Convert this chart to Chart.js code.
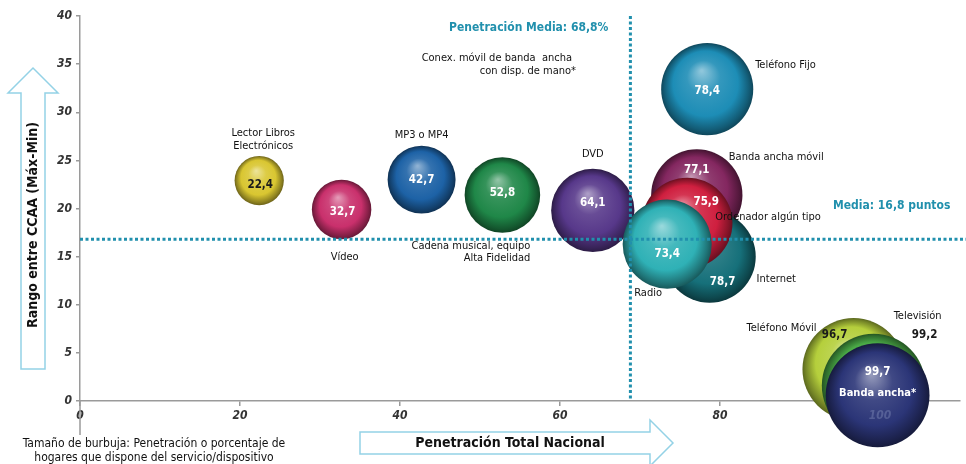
<!DOCTYPE html>
<html lang="es">
<head>
<meta charset="utf-8">
<script src="https://cdn.jsdelivr.net/npm/chart.js@4.4.1/dist/chart.umd.min.js"></script>
<style>
  html, body { margin: 0; padding: 0; background: #fff; }
  #wrap { width: 966px; height: 464px; }
</style>
</head>
<body>
<div id="wrap"><canvas id="chart" width="966" height="464"></canvas></div>
<script>
// orden = orden de dibujo (las últimas quedan encima)
const NOMBRES = [
  ["Lector Libros", "Electrónicos"],
  ["Vídeo"],
  ["MP3 o MP4"],
  ["Cadena musical, equipo", "Alta Fidelidad"],
  ["DVD"],
  ["Teléfono Fijo"],
  ["Banda ancha móvil"],
  ["Internet"],
  ["Ordenador algún tipo"],
  ["Radio"],
  ["Teléfono Móvil"],
  ["Televisión"],
  ["Banda ancha*"],
];
// penetración total nacional (% hogares): eje X y tamaño de burbuja
const PENETRACION = [22.4, 32.7, 42.7, 52.8, 64.1, 78.4, 77.1, 78.7, 75.9, 73.4, 96.7, 99.2, 99.7];
// rango entre CCAA (máx-mín)
const RANGO = [22.9, 19.9, 23.0, 21.4, 19.8, 32.4, 21.4, 15.0, 18.5, 16.3, 3.3, 1.6, 0.6];
const COLORES = ["#d9c631", "#c9306c", "#1d62a6", "#1f8748", "#57388a", "#1d8db6",
  "#842760", "#16707a", "#cf1f3f", "#2fb1b6", "#b5cf3c", "#4aa946", "#2b3577"];

const MEDIA_PENETRACION = 68.8;
const MEDIA_RANGO = 16.8;
const X_TICKS = [0, 20, 40, 60, 80, 100];
const Y_TICKS = [0, 5, 10, 15, 20, 25, 30, 35, 40];

// colocación de etiquetas respecto al centro de cada burbuja: [dx, dy, alineación]
const POS_NOMBRE = [
  [4, -47, "center"], [3, 48, "center"], [0, -44, "center"], [28, 51, "right"],
  [0, -56, "center"], [48, -24, "left"], [32, -38, "left"], [47, 23, "left"],
  [28, -6, "left"], [-33, 49, "left"], [-37, -41, "right"], [44, -69, "center"],
  [0, -2, "center"],
];
const POS_VALOR = [
  [1, 4], [1, 3], [0, 0], [0, -2], [0, -7], [0, 2], [0, -25], [13, 25],
  [19, -21], [0, 10], [-19, -34], [51, -51], [0, -23],
];
const VALOR_OSCURO = [0, 10, 11];
const NOMBRE_DENTRO = [12];

const TEAL = "#2190ad";
const GRIS = "#9a9a9a";
const FONT = "'DejaVu Sans Condensed', 'DejaVu Sans', sans-serif";

const fmt = (v) => v.toFixed(1).replace(".", ",");
const radio = (p) => 5.2 * Math.sqrt(p);

function shade(hex, f) {
  const n = parseInt(hex.slice(1), 16);
  let r = n >> 16, g = (n >> 8) & 255, b = n & 255;
  const t = f > 0 ? 255 : 0, a = Math.abs(f);
  r = Math.round(r + (t - r) * a); g = Math.round(g + (t - g) * a); b = Math.round(b + (t - b) * a);
  return `rgb(${r},${g},${b})`;
}

function esfera(ctx) {
  const i = ctx.dataIndex;
  if (i === undefined) return COLORES[0];
  const { x, y } = ctx.chart.scales;
  const cx = x ? x.getPixelForValue(PENETRACION[i]) : NaN;
  const cy = y ? y.getPixelForValue(RANGO[i]) : NaN;
  if (!isFinite(cx) || !isFinite(cy)) return COLORES[i];
  const r = radio(PENETRACION[i]);
  const g = ctx.chart.ctx.createRadialGradient(cx - r * 0.12, cy - r * 0.4, r * 0.02, cx, cy, r);
  const c = COLORES[i];
  g.addColorStop(0, shade(c, 0.5));
  g.addColorStop(0.35, shade(c, 0.1));
  g.addColorStop(0.7, c);
  g.addColorStop(0.92, shade(c, -0.35));
  g.addColorStop(1, shade(c, -0.5));
  return g;
}

const anotaciones = {
  id: "anotaciones",
  beforeDatasetsDraw(chart) {
    // prolongación del eje vertical por debajo del cero
    const c = chart.ctx;
    const a = chart.chartArea;
    c.save();
    c.strokeStyle = GRIS;
    c.lineWidth = 1.5;
    c.beginPath();
    c.moveTo(a.left, a.bottom);
    c.lineTo(a.left, a.bottom + 34);
    c.stroke();
    c.restore();
  },
  afterDatasetsDraw(chart) {
    const c = chart.ctx;
    const { x, y } = chart.scales;
    const area = chart.chartArea;
    c.save();

    // "100" del eje, visible a través de la burbuja
    c.font = `italic bold 12px ${FONT}`;
    c.fillStyle = "rgba(150,160,200,0.35)";
    c.textAlign = "center";
    c.textBaseline = "top";
    c.fillText("100", x.getPixelForValue(100), area.bottom + 9);

    // medias
    const px = x.getPixelForValue(MEDIA_PENETRACION);
    const py = y.getPixelForValue(MEDIA_RANGO);
    c.strokeStyle = TEAL;
    c.lineWidth = 3;
    c.setLineDash([3, 2.5]);
    c.beginPath();
    c.moveTo(px, area.top);
    c.lineTo(px, area.bottom);
    c.moveTo(area.left, py);
    c.lineTo(chart.width, py);
    c.stroke();
    c.setLineDash([]);

    c.font = `bold 12px ${FONT}`;
    c.fillStyle = TEAL;
    c.textBaseline = "middle";
    c.textAlign = "right";
    c.fillText("Penetración Media: " + fmt(MEDIA_PENETRACION) + "%", px - 22, 28);
    c.textAlign = "left";
    c.fillText("Media: " + fmt(MEDIA_RANGO) + " puntos", 833, 206);

    // nombres y valores de cada burbuja
    PENETRACION.forEach((p, i) => {
      const cx = x.getPixelForValue(p);
      const cy = y.getPixelForValue(RANGO[i]);
      const [dx, dy, al] = POS_NOMBRE[i];
      const dentro = NOMBRE_DENTRO.includes(i);
      c.font = dentro ? `bold 11px ${FONT}` : `11px ${FONT}`;
      c.fillStyle = dentro ? "#fff" : "#111";
      c.textAlign = al;
      NOMBRES[i].forEach((t, k) => c.fillText(t, cx + dx, cy + dy + k * 12.5));

      const [vx, vy] = POS_VALOR[i];
      c.font = `bold 11.5px ${FONT}`;
      c.fillStyle = VALOR_OSCURO.includes(i) ? "#1a1a1a" : "#fff";
      c.textAlign = "center";
      c.fillText(fmt(p), cx + vx, cy + vy);
    });

    // servicio sin burbuja visible
    c.font = `11px ${FONT}`;
    c.fillStyle = "#111";
    c.textAlign = "right";
    c.fillText("Conex. móvil de banda  ancha", 572, 58);
    c.fillText("con disp. de mano*", 576, 71);

    c.restore();
  },
  afterDraw(chart) {
    const c = chart.ctx;
    c.save();
    c.strokeStyle = "#94d2e6";
    c.lineWidth = 1.5;
    // flecha vertical
    c.beginPath();
    c.moveTo(21, 369); c.lineTo(21, 93); c.lineTo(8, 93); c.lineTo(33, 68);
    c.lineTo(58, 93); c.lineTo(45, 93); c.lineTo(45, 369); c.closePath();
    c.stroke();
    // flecha horizontal
    c.beginPath();
    c.moveTo(360, 432); c.lineTo(650, 432); c.lineTo(650, 420); c.lineTo(673, 443);
    c.lineTo(650, 466); c.lineTo(650, 454); c.lineTo(360, 454); c.closePath();
    c.stroke();

    c.fillStyle = "#111";
    c.font = `bold 14px ${FONT}`;
    c.textAlign = "center";
    c.textBaseline = "middle";
    c.fillText("Penetración Total Nacional", 510, 443);
    c.save();
    c.translate(33, 225);
    c.rotate(-Math.PI / 2);
    c.fillText("Rango entre CCAA (Máx-Min)", 0, 0);
    c.restore();

    c.font = `12px ${FONT}`;
    c.fillText("Tamaño de burbuja: Penetración o porcentaje de", 154, 444);
    c.fillText("hogares que dispone del servicio/dispositivo", 154, 458);
    c.restore();
  },
};

new Chart(document.getElementById("chart"), {
  type: "bubble",
  data: {
    datasets: [{
      data: PENETRACION.map((p, i) => ({ x: p, y: RANGO[i], r: radio(p) })),
      backgroundColor: esfera,
      borderWidth: 0,
      clip: false,
    }],
  },
  options: {
    responsive: false,
    animation: false,
    layout: { autoPadding: false, padding: { top: 16, right: 6, bottom: 29, left: 0 } },
    plugins: { legend: { display: false }, tooltip: { enabled: false } },
    scales: {
      x: {
        type: "linear",
        min: 0,
        max: 110,
        position: "bottom",
        afterBuildTicks: (s) => { s.ticks = X_TICKS.map((v) => ({ value: v })); },
        afterFit: (s) => { s.height = 34; },
        ticks: { color: "#333", padding: 3, font: { family: FONT, size: 12, style: "italic", weight: "bold" } },
        grid: { drawOnChartArea: false, drawTicks: true, tickLength: 5, color: GRIS, lineWidth: 1.5 },
        border: { color: GRIS, width: 1.5 },
      },
      y: {
        type: "linear",
        min: 0,
        max: 40,
        afterBuildTicks: (s) => { s.ticks = Y_TICKS.map((v) => ({ value: v })); },
        afterFit: (s) => { s.width = 80; },
        ticks: { color: "#333", padding: 4, font: { family: FONT, size: 12, style: "italic", weight: "bold" } },
        grid: { drawOnChartArea: false, drawTicks: true, tickLength: 4, color: GRIS, lineWidth: 1.5 },
        border: { color: GRIS, width: 1.5 },
      },
    },
  },
  plugins: [anotaciones],
});
</script>
</body>
</html>
